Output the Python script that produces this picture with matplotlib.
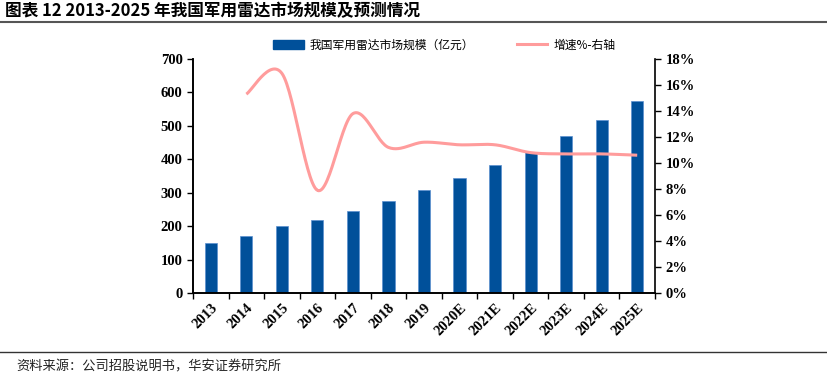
import numpy as np
import matplotlib
matplotlib.use("Agg")
from matplotlib import pyplot as plt
from matplotlib.lines import Line2D

plt.rcParams['font.family'] = ['Liberation Serif', 'Noto Sans CJK SC', 'DejaVu Sans']

years = ["2013", "2014", "2015", "2016", "2017", "2018", "2019",
         "2020E", "2021E", "2022E", "2023E", "2024E", "2025E"]
market = [150, 171, 200, 218, 245, 275, 308, 344, 383, 422, 470, 518, 575]
# growth rate in %, first year has no value
growth = [None, 15.3, 16.9, 7.9, 13.8, 11.2, 11.6, 11.4, 11.4, 10.8, 10.7, 10.7, 10.6]

bar_color = "#00509A"
line_color = "#FF9C9C"


def smooth(xs, ys, n=30):
    # catmull-rom curve through the points, like an excel smoothed line
    xs = np.asarray(xs, float)
    ys = np.asarray(ys, float)
    px = np.concatenate([[xs[0]], xs, [xs[-1]]])
    py = np.concatenate([[ys[0]], ys, [ys[-1]]])
    ox, oy = [], []
    for i in range(1, len(px) - 2):
        t = np.linspace(0, 1, n)
        for p, out in ((px, ox), (py, oy)):
            p0, p1, p2, p3 = p[i - 1], p[i], p[i + 1], p[i + 2]
            out.extend(0.5 * ((2 * p1) + (-p0 + p2) * t
                              + (2 * p0 - 5 * p1 + 4 * p2 - p3) * t ** 2
                              + (-p0 + 3 * p1 - 3 * p2 + p3) * t ** 3))
    return ox, oy


fig = plt.figure(figsize=(8.27, 3.82), dpi=100)
ax = fig.add_axes([0.2334, 0.233, 0.5586, 0.6125])
ax2 = ax.twinx()

x = np.arange(len(years))
ax.bar(x, market, width=0.34, color=bar_color, edgecolor="#5B8FD0", linewidth=0.5, zorder=2)
ax.set_xlim(-0.5, len(years) - 0.5)
ax.set_ylim(0, 700)
ax.set_yticks(range(0, 701, 100))
ax.set_xticks(x)
ax.set_xticklabels(years, rotation=45, ha="right", rotation_mode="anchor",
                   fontsize=10.5, fontweight="bold")
ax.set_xticks(np.arange(-0.5, len(years), 1), minor=True)
ax.tick_params(axis="x", which="major", length=0, pad=6)
ax.tick_params(axis="x", which="minor", length=4, width=1, direction="out")
ax.tick_params(axis="y", length=4, width=1, labelsize=10.5)
for lab in ax.get_yticklabels():
    lab.set_fontweight("bold")

gx = [i for i, g in enumerate(growth) if g is not None]
gy = [g for g in growth if g is not None]
sx, sy = smooth(gx, gy)
ax2.plot(sx, sy, color=line_color, linewidth=2.2, solid_capstyle="butt", zorder=3)
ax2.set_ylim(0, 18)
ax2.set_yticks(range(0, 19, 2))
ax2.set_yticklabels([f"{v}%" for v in range(0, 19, 2)], fontsize=10.5, fontweight="bold")
ax2.tick_params(axis="y", length=4, width=1)

for a in (ax, ax2):
    a.spines["top"].set_visible(False)
    for s in ("left", "right", "bottom"):
        a.spines[s].set_linewidth(1.2)
ax.spines["right"].set_visible(False)

# legend
handles = [plt.Rectangle((0, 0), 1, 1, color=bar_color),
           Line2D([0], [0], color=line_color, linewidth=2.2)]
fig.legend(handles, ["我国军用雷达市场规模（亿元）", "增速%-右轴"],
           loc="center", bbox_to_anchor=(0.537, 0.882), ncol=2, frameon=False,
           prop={"family": ["Noto Sans CJK SC"], "size": 8.5},
           handlelength=2.6, handletextpad=0.5, columnspacing=3.6)

# title and footer
fig.text(0.006, 0.972, "图表 12 2013-2025 年我国军用雷达市场规模及预测情况",
         fontsize=12, fontweight="bold", family=["Noto Sans CJK SC"], va="center")
fig.add_artist(Line2D([0.0, 1.0], [0.942, 0.942], color="#555555", linewidth=1.5))
fig.add_artist(Line2D([0.0, 1.0], [0.078, 0.078], color="#333333", linewidth=1.0))
fig.text(0.02, 0.04, "资料来源：公司招股说明书，华安证券研究所",
         fontsize=9.5, family=["Noto Sans CJK SC"], va="center", color="#222222")

fig.savefig("out.png", dpi=100)
